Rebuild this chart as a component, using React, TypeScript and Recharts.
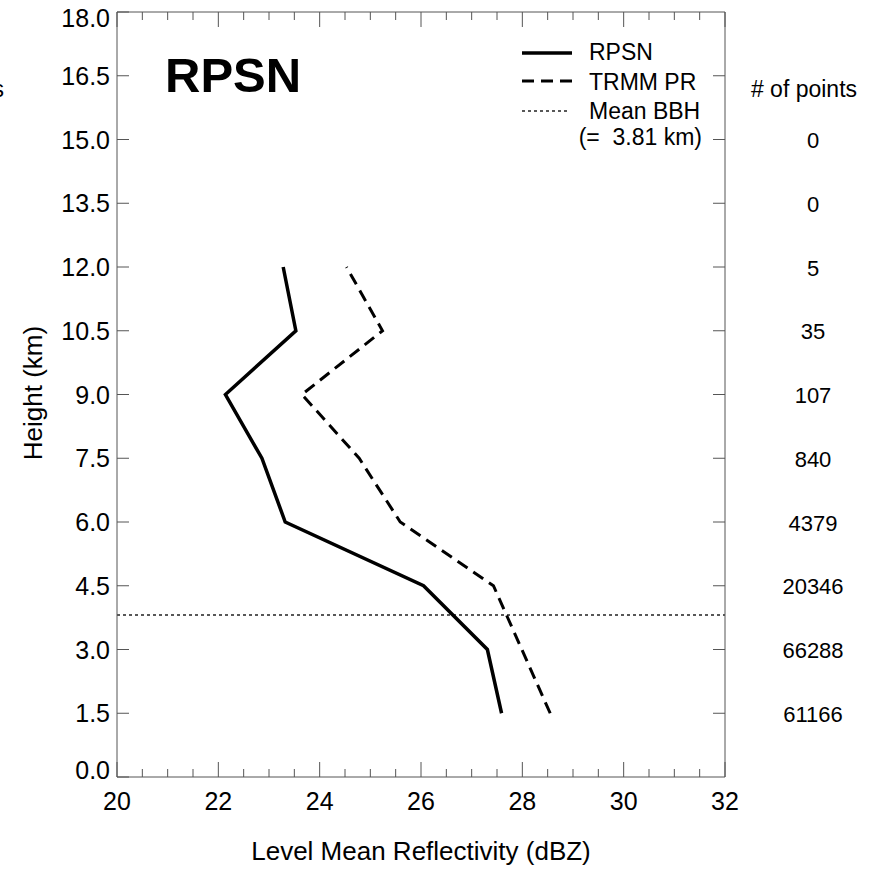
import React from 'react';
import { LineChart, Line, XAxis, YAxis, ReferenceLine } from 'recharts';

// profile levels (km) and level-mean reflectivity (dBZ)
const heights = [1.5, 3, 4.5, 6, 7.5, 9, 10.5, 12];
const rpsn = [27.59, 27.31, 26.05, 23.32, 22.86, 22.14, 23.53, 23.28];
const trmm = [28.55, 27.99, 27.43, 25.59, 24.78, 23.65, 25.24, 24.53];

// number of points per level (right column)
const countLevels = [1.5, 3, 4.5, 6, 7.5, 9, 10.5, 12, 13.5, 15];
const counts = [61166, 66288, 20346, 4379, 840, 107, 35, 5, 0, 0];

const meanBBH = 3.81;

const xTicks = [
  20, 20.5, 21, 21.5, 22, 22.5, 23, 23.5, 24, 24.5, 25, 25.5, 26,
  26.5, 27, 27.5, 28, 28.5, 29, 29.5, 30, 30.5, 31, 31.5, 32,
];
const yTicks = [0, 1.5, 3, 4.5, 6, 7.5, 9, 10.5, 12, 13.5, 15, 16.5, 18];

const data = heights.map((h, i) => ({ h, rpsn: rpsn[i], trmm: trmm[i] }));

const AXIS = '#555';
const FONT = '"Liberation Sans", Arial, sans-serif';

function BottomTick({ x, y, payload }: any) {
  const v = payload.value;
  const major = v % 2 === 0;
  return (
    <g>
      <line x1={x} x2={x} y1={y} y2={y - (major ? 15 : 8)} stroke={AXIS} />
      {major && (
        <text x={x} y={y + 33} textAnchor="middle" fontSize={25} fontFamily={FONT} fill="#000">
          {v}
        </text>
      )}
    </g>
  );
}

function TopTick({ x, y, payload }: any) {
  const major = payload.value % 2 === 0;
  return <line x1={x} x2={x} y1={y} y2={y + (major ? 15 : 8)} stroke={AXIS} />;
}

function LeftTick({ x, y, payload }: any) {
  const v = payload.value;
  // end labels sit inside the frame
  const shift = v === 0 ? -7 : v === 18 ? 6 : 0;
  return (
    <g>
      <line x1={x} x2={x + 12} y1={y} y2={y} stroke={AXIS} />
      <text x={x - 7} y={y + 9 + shift} textAnchor="end" fontSize={25} fontFamily={FONT} fill="#000">
        {v.toFixed(1)}
      </text>
    </g>
  );
}

function RightTick({ x, y, payload }: any) {
  const v = payload.value;
  const idx = countLevels.indexOf(v);
  if (v === 0 || v === 18) return <g />;
  return (
    <g>
      <line x1={x} x2={x - 12} y1={y} y2={y} stroke={AXIS} />
      {idx >= 0 && (
        <text x={x + 88} y={y + 8.5} textAnchor="middle" fontSize={22} fontFamily={FONT} fill="#000">
          {counts[idx]}
        </text>
      )}
    </g>
  );
}

export default function App() {
  return (
    <div style={{ position: 'absolute', left: 0, top: 0, width: 873, height: 869, background: '#fff' }}>
      <LineChart
        width={873}
        height={869}
        data={data}
        layout="vertical"
        margin={{ top: 0, right: 0, bottom: 0, left: 0 }}
      >
        <XAxis
          type="number"
          domain={[20, 32]}
          ticks={xTicks}
          interval={0}
          height={92}
          tickSize={0}
          tickMargin={0}
          axisLine={{ stroke: AXIS }}
          tick={<BottomTick />}
          allowDataOverflow
        />
        <XAxis
          xAxisId="top"
          orientation="top"
          type="number"
          domain={[20, 32]}
          ticks={xTicks}
          interval={0}
          height={12}
          tickSize={0}
          tickMargin={0}
          axisLine={{ stroke: AXIS }}
          tick={<TopTick />}
          allowDataOverflow
        />
        <YAxis
          type="number"
          dataKey="h"
          domain={[0, 18]}
          ticks={yTicks}
          interval={0}
          reversed
          width={117}
          tickSize={0}
          tickMargin={0}
          axisLine={{ stroke: AXIS }}
          tick={<LeftTick />}
          allowDataOverflow
        />
        <YAxis
          yAxisId="right"
          orientation="right"
          type="number"
          dataKey="h"
          domain={[0, 18]}
          ticks={yTicks}
          interval={0}
          reversed
          width={148}
          tickSize={0}
          tickMargin={0}
          axisLine={{ stroke: AXIS }}
          tick={<RightTick />}
          allowDataOverflow
        />
        <ReferenceLine y={meanBBH} stroke="#222" strokeWidth={1.5} strokeDasharray="3 3" />
        <Line
          dataKey="rpsn"
          type="linear"
          stroke="#000"
          strokeWidth={3.5}
          dot={false}
          isAnimationActive={false}
        />
        <Line
          dataKey="trmm"
          type="linear"
          stroke="#000"
          strokeWidth={3}
          strokeDasharray="12 7"
          dot={false}
          isAnimationActive={false}
        />
      </LineChart>
      <svg
        width={873}
        height={869}
        style={{ position: 'absolute', left: 0, top: 0, pointerEvents: 'none' }}
        fontFamily={FONT}
      >
        <text x={4} y={97} textAnchor="end" fontSize={23}>s</text>
        <text x={165} y={92} fontSize={49} fontWeight="bold">RPSN</text>

        <line x1={522} x2={572} y1={53} y2={53} stroke="#000" strokeWidth={3.5} />
        <text x={589} y={60} fontSize={23}>RPSN</text>
        <line x1={522} x2={572} y1={81} y2={81} stroke="#000" strokeWidth={3} strokeDasharray="12 7" />
        <text x={589} y={90} fontSize={23}>TRMM PR</text>
        <line x1={522} x2={570} y1={111} y2={111} stroke="#222" strokeWidth={1.5} strokeDasharray="3 3" />
        <text x={589} y={119} fontSize={23}>Mean BBH</text>
        <text x={702} y={145} fontSize={23} textAnchor="end" style={{ whiteSpace: 'pre' }}>
          {`(=  ${meanBBH} km)`}
        </text>

        <text x={804} y={97} textAnchor="middle" fontSize={23}># of points</text>

        <text transform="translate(42,393) rotate(-90)" textAnchor="middle" fontSize={26}>
          Height (km)
        </text>
        <text x={421} y={860} textAnchor="middle" fontSize={26}>
          Level Mean Reflectivity (dBZ)
        </text>
      </svg>
    </div>
  );
}
